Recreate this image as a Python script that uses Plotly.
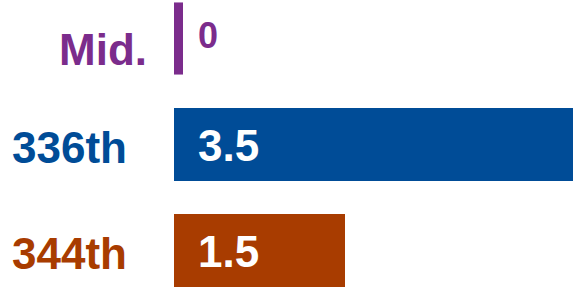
import plotly.graph_objects as go

categories = ["Mid.", "336th", "344th"]
values = [0, 3.5, 1.5]
value_labels = ["0", "3.5", "1.5"]
colors = ["#7B2C8C", "#004C97", "#A83C00"]

FONT = "Liberation Sans, Arial, sans-serif"
PX_PER_UNIT = 114.0
ZERO_PX = 174.0
W, H = 577, 288
x_range = [-ZERO_PX / PX_PER_UNIT, (W - ZERO_PX) / PX_PER_UNIT]
STEP = 106.0
TOP_CENTER = 38.5
y_top = -TOP_CENTER / STEP
y_bottom = y_top + H / STEP
BAR_W = 73 / STEP

fig = go.Figure()

# regular bars
fig.add_trace(go.Bar(
    x=values, y=categories, orientation="h",
    marker=dict(color=colors, line=dict(width=0)),
    width=BAR_W, hoverinfo="skip", showlegend=False,
))

# zero-valued entries drawn as a thin tick at the baseline
zero_idx = [i for i, v in enumerate(values) if v == 0]
fig.add_trace(go.Scatter(
    x=[values[i] for i in zero_idx], y=[categories[i] for i in zero_idx],
    mode="markers", xaxis="x2", cliponaxis=False,
    marker=dict(symbol="line-ns", size=51.5,
                line=dict(width=9, color=[colors[i] for i in zero_idx])),
    hoverinfo="skip", showlegend=False,
))

annotations = []
for i, (c, v, lab, col) in enumerate(zip(categories, values, value_labels, colors)):
    is_zero = v == 0
    # category label
    annotations.append(dict(
        x=0, y=c, xref="x", yref="y", text=c, showarrow=False,
        xanchor="right", yanchor="middle",
        xshift=-25 if is_zero else -45, yshift=-11 if is_zero else -3,
        font=dict(family=FONT, size=44, color=col, weight="bold"),
    ))
    # value label
    annotations.append(dict(
        x=0, y=c, xref="x", yref="y", text=lab, showarrow=False,
        xanchor="left", yanchor="middle",
        xshift=22, yshift=3 if is_zero else -1,
        font=dict(family=FONT, size=36 if is_zero else 44,
                  color=col if is_zero else "white", weight="bold"),
    ))

fig.update_layout(
    width=W, height=H,
    margin=dict(l=0, r=0, t=0, b=0),
    paper_bgcolor="white", plot_bgcolor="white",
    xaxis=dict(range=x_range, visible=False, fixedrange=True),
    xaxis2=dict(range=[x_range[0] - 4.5 / PX_PER_UNIT, x_range[1] - 4.5 / PX_PER_UNIT],
                overlaying="x", visible=False, fixedrange=True),
    yaxis=dict(range=[y_bottom, y_top], type="category",
               categoryorder="array", categoryarray=categories,
               visible=False, fixedrange=True),
    annotations=annotations,
    bargap=0,
)

fig.write_html(
    "out.html",
    config={"displayModeBar": False},
    post_script="document.body.style.margin='0';document.body.style.overflow='hidden';",
)
